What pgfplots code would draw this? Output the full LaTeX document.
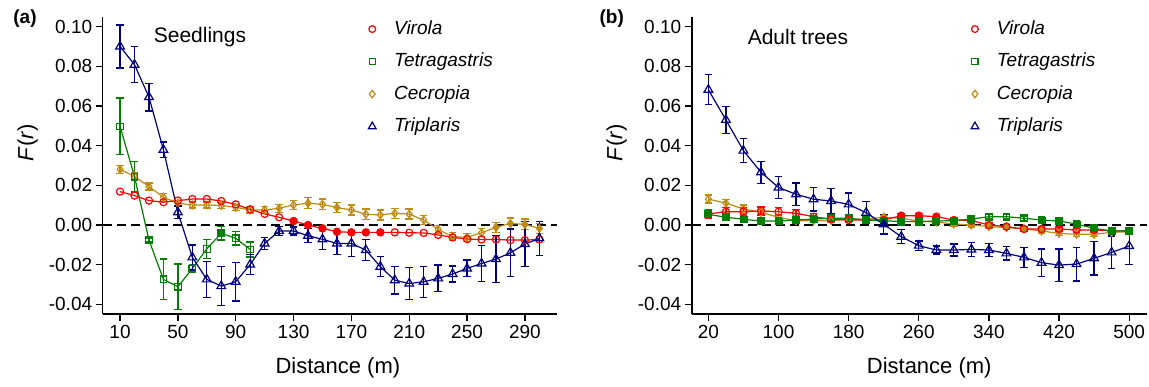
\documentclass[border=0pt]{standalone}
\usepackage{fontspec}
\setmainfont{Liberation Sans}
\usepackage{pgfplots}
\usepackage{pgfplotstable}
\pgfplotsset{compat=1.18}
\definecolor{cvir}{RGB}{255,0,0}
\definecolor{ctet}{RGB}{0,128,0}
\definecolor{ccec}{RGB}{190,140,20}
\definecolor{ctri}{RGB}{0,0,128}

% ---------------- panel (a): seedlings ----------------
\pgfplotstableread{
x y
10 0.0168
20 0.0148
30 0.0123
40 0.0115
50 0.0123
60 0.0131
70 0.0131
80 0.0121
90 0.0104
100 0.0079
110 0.0056
120 0.0039
130 0.0020
140 0.0000
150 -0.0017
160 -0.0034
170 -0.0037
180 -0.0037
190 -0.0037
200 -0.0037
210 -0.0039
220 -0.0040
230 -0.0050
240 -0.0062
250 -0.0071
260 -0.0073
270 -0.0073
280 -0.0076
290 -0.0076
300 -0.0073
}\virA
\pgfplotstableread{
x y
130 0.0020
140 0.0000
150 -0.0017
160 -0.0034
170 -0.0037
180 -0.0037
190 -0.0037
}\virAf
\pgfplotstableread{
x y e
10 0.0497 0.0143
20 0.0244 0.0077
30 -0.0076 0.0010
40 -0.0274 0.0103
50 -0.0311 0.0114
60 -0.0219 0.0020
70 -0.0120 0.0048
80 -0.0042 0.0034
90 -0.0067 0.0034
100 -0.0123 0.0038
}\tetA
\pgfplotstableread{
x y
80 -0.0042
}\tetAf
\pgfplotstableread{
x y e
10 0.0281 0.0020
20 0.0244 0.0018
30 0.0194 0.0018
40 0.0140 0.0020
50 0.0110 0.0015
60 0.0101 0.0015
70 0.0101 0.0015
80 0.0098 0.0015
90 0.0089 0.0015
100 0.0076 0.0015
110 0.0076 0.0018
120 0.0084 0.0020
130 0.0101 0.0022
140 0.0110 0.0027
150 0.0104 0.0027
160 0.0088 0.0025
170 0.0076 0.0025
180 0.0054 0.0027
190 0.0051 0.0025
200 0.0059 0.0025
210 0.0055 0.0025
220 0.0025 0.0022
230 -0.0022 0.0020
240 -0.0059 0.0020
250 -0.0062 0.0020
260 -0.0039 0.0020
270 -0.0012 0.0025
280 0.0008 0.0027
290 0.0003 0.0027
300 -0.0017 0.0025
}\cecA
\pgfplotstableread{
x y
270 -0.0012
280 0.0008
290 0.0003
300 -0.0017
}\cecAf
\pgfplotstableread{
x y e
10 0.0900 0.0108
20 0.0808 0.0090
30 0.0645 0.0070
40 0.0379 0.0040
50 0.0064 0.0032
60 -0.0163 0.0063
70 -0.0274 0.0090
80 -0.0308 0.0099
90 -0.0286 0.0097
100 -0.0199 0.0052
110 -0.0093 0.0030
120 -0.0030 0.0023
130 -0.0030 0.0020
140 -0.0054 0.0035
150 -0.0072 0.0050
160 -0.0093 0.0055
170 -0.0093 0.0065
180 -0.0126 0.0052
190 -0.0210 0.0050
200 -0.0278 0.0070
210 -0.0295 0.0080
220 -0.0286 0.0078
230 -0.0269 0.0067
240 -0.0247 0.0040
250 -0.0219 0.0042
260 -0.0194 0.0090
270 -0.0172 0.0118
280 -0.0140 0.0120
290 -0.0096 0.0114
300 -0.0067 0.0086
}\triA

% ---------------- panel (b): adult trees ----------------
\pgfplotstableread{
x y e
20 0.0056 0.0020
40 0.0067 0.0020
60 0.0067 0.0020
80 0.0071 0.0020
100 0.0067 0.0020
120 0.0059 0.0020
140 0.0042 0.0015
160 0.0029 0.0010
180 0.0025 0.0010
200 0.0025 0.0010
220 0.0025 0.0010
240 0.0047 0.0010
260 0.0047 0.0010
280 0.0042 0.0010
300 0.0025 0.0010
320 0.0022 0.0010
340 0.0000 0.0010
360 -0.0008 0.0010
380 -0.0020 0.0010
400 -0.0020 0.0010
420 -0.0020 0.0010
440 -0.0025 0.0010
460 -0.0025 0.0010
480 -0.0030 0.0010
500 -0.0030 0.0010
}\virB
\pgfplotstableread{
x y
240 0.0047
260 0.0047
280 0.0042
300 0.0025
}\virBf
\pgfplotstableread{
x y e
20 0.0054 0.0015
40 0.0039 0.0012
60 0.0029 0.0010
80 0.0020 0.0010
100 0.0020 0.0010
120 0.0025 0.0010
140 0.0030 0.0010
160 0.0034 0.0010
180 0.0034 0.0010
200 0.0025 0.0010
220 0.0022 0.0010
240 0.0017 0.0010
260 0.0017 0.0010
280 0.0020 0.0010
300 0.0022 0.0010
320 0.0030 0.0010
340 0.0042 0.0010
360 0.0042 0.0010
380 0.0034 0.0010
400 0.0025 0.0010
420 0.0020 0.0010
440 0.0005 0.0010
460 -0.0017 0.0010
480 -0.0030 0.0010
500 -0.0029 0.0010
}\tetB
\pgfplotstableread{
x y
20 0.0054
40 0.0039
60 0.0029
80 0.0020
100 0.0020
120 0.0025
140 0.0030
200 0.0025
220 0.0022
240 0.0017
260 0.0017
280 0.0020
300 0.0022
320 0.0030
400 0.0025
420 0.0020
440 0.0005
460 -0.0017
480 -0.0030
500 -0.0029
}\tetBf
\pgfplotstableread{
x y e
20 0.0131 0.0020
40 0.0110 0.0020
60 0.0081 0.0020
80 0.0064 0.0015
100 0.0039 0.0012
120 0.0022 0.0010
140 0.0022 0.0010
160 0.0022 0.0010
180 0.0029 0.0010
200 0.0030 0.0010
220 0.0039 0.0010
240 0.0034 0.0010
260 0.0020 0.0010
280 0.0015 0.0010
300 0.0005 0.0010
320 0.0000 0.0010
340 -0.0008 0.0010
360 -0.0013 0.0010
380 -0.0020 0.0010
400 -0.0030 0.0010
420 -0.0042 0.0010
440 -0.0047 0.0010
460 -0.0047 0.0010
480 -0.0037 0.0010
500 -0.0034 0.0010
}\cecB
\pgfplotstableread{
x y
220 0.0039
240 0.0034
260 0.0020
280 0.0015
300 0.0005
320 0.0000
340 -0.0008
360 -0.0013
380 -0.0020
400 -0.0030
}\cecBf
\pgfplotstableread{
x y e
20 0.0682 0.0076
40 0.0530 0.0067
60 0.0375 0.0060
80 0.0266 0.0055
100 0.0189 0.0056
120 0.0155 0.0057
140 0.0130 0.0060
160 0.0121 0.0063
180 0.0104 0.0057
200 0.0062 0.0055
220 0.0004 0.0050
240 -0.0059 0.0035
260 -0.0104 0.0023
280 -0.0126 0.0020
300 -0.0126 0.0030
320 -0.0123 0.0035
340 -0.0126 0.0034
360 -0.0143 0.0034
380 -0.0163 0.0050
400 -0.0190 0.0069
420 -0.0202 0.0081
440 -0.0197 0.0085
460 -0.0168 0.0084
480 -0.0138 0.0082
500 -0.0106 0.0094
}\triB
\pgfplotstableread{
x y
220 0.0004
}\triBf

\pgfplotsset{
  /pgf/number format/assume math mode=true,
  panel/.style={
    scale only axis, height=297.6pt,
    axis x line*=bottom, axis y line*=left,
    ymin=-0.045, ymax=0.105,
    ytick={-0.04,-0.02,0,0.02,0.04,0.06,0.08,0.1},
    scaled y ticks=false,
    yticklabel style={/pgf/number format/.cd, fixed, fixed zerofill, precision=2, assume math mode=true},
    xticklabel style={/pgf/number format/assume math mode=true},
    ticklabel style={font=\fontsize{19}{22}\selectfont, black},
    tick align=outside, major tick length=7pt,
    tick style={line width=1.3pt, black},
    axis line style={line width=1.6pt, black},
    xlabel={Distance (m)},
    ylabel={\textit{F}(\textit{r}\kern0.5pt)},
    every axis y label/.style={at={(rel axis cs:0,0.577)}, xshift=-75pt, rotate=90, anchor=center, font=\fontsize{22}{26}\selectfont},
    clip=false,
    legend cell align=left,
    legend image code/.code={\draw[##1] plot coordinates {(0pt,0pt)};},
    legend style={draw=none, fill=none, inner sep=0pt, outer sep=0pt,
      anchor=north west, row sep=14.5pt,
      font=\itshape\fontsize{19}{22}\selectfont,
      nodes={inner sep=0pt, text height=14pt, text depth=4pt},
      /tikz/every odd column/.style={column sep=18pt}},
  },
  ser/.style={color=#1, line width=1.2pt,
    mark options={fill=white, solid, line width=1.2pt},
    error bars/y dir=both, error bars/y explicit,
    error bars/error bar style={line width=1.3pt, #1},
    error bars/error mark options={rotate=90, mark size=3.8pt, line width=1.3pt, #1}},
}

\begin{document}
\begin{tikzpicture}
\path[use as bounding box] (0,0) rectangle (1149pt,387pt);

% ----- (a)
\begin{axis}[panel, at={(102.7pt,72.7pt)}, anchor=south west, width=454pt,
  xmin=-2, xmax=312, xtick={10,50,90,130,170,210,250,290},
  every axis x label/.style={at={(rel axis cs:0.518,0)}, yshift=-53.7pt, anchor=center, font=\fontsize{22}{26}\selectfont},
  legend style={at={(rel axis cs:0.5852,0.9886)}}]
\addlegendimage{only marks, mark=o, mark size=3.4pt, draw=cvir, mark options={draw=cvir, fill=white, line width=1.2pt}}
\addlegendentry{Virola}
\addlegendimage{only marks, mark=square, mark size=3.1pt, draw=ctet, mark options={draw=ctet, fill=white, line width=1.2pt}}
\addlegendentry{Tetragastris}
\addlegendimage{only marks, mark=diamond, mark size=3.8pt, draw=ccec, mark options={draw=ccec, fill=white, line width=1.2pt}}
\addlegendentry{Cecropia}
\addlegendimage{only marks, mark=triangle, mark size=4.5pt, draw=ctri, mark options={draw=ctri, fill=white, line width=1.2pt}}
\addlegendentry{Triplaris}
\addplot[black, dashed, dash pattern=on 9pt off 5pt, line width=1.3pt, forget plot] coordinates {(-2,0) (312,0)};
\addplot[ser=ccec, mark=diamond, mark size=3.9pt, forget plot] table[x=x,y=y,y error=e] {\cecA};
\addplot[only marks, ccec, mark=diamond*, mark size=3.9pt, mark options={fill=ccec}, forget plot] table[x=x,y=y] {\cecAf};
\addplot[cvir, line width=1.2pt, mark=o, mark size=3.6pt, mark options={fill=white, line width=1.2pt}, forget plot] table[x=x,y=y] {\virA};
\addplot[only marks, cvir, mark=*, mark size=3.6pt, mark options={fill=cvir}, forget plot] table[x=x,y=y] {\virAf};
\addplot[ser=ctet, mark=square, mark size=3.3pt, forget plot] table[x=x,y=y,y error=e] {\tetA};
\addplot[only marks, ctet, mark=square*, mark size=3.3pt, mark options={fill=ctet}, forget plot] table[x=x,y=y] {\tetAf};
\addplot[ser=ctri, mark=triangle, mark size=5pt, forget plot] table[x=x,y=y,y error=e] {\triA};
\end{axis}

% ----- (b)
\begin{axis}[panel, at={(691.7pt,72.7pt)}, anchor=south west, width=455pt,
  xmin=1, xmax=520, xtick={20,100,180,260,340,420,500},
  every axis x label/.style={at={(rel axis cs:0.522,0)}, yshift=-53.7pt, anchor=center, font=\fontsize{22}{26}\selectfont},
  legend style={at={(rel axis cs:0.6139,0.9886)}}]
\addlegendimage{only marks, mark=o, mark size=3.4pt, draw=cvir, mark options={draw=cvir, fill=white, line width=1.2pt}}
\addlegendentry{Virola}
\addlegendimage{only marks, mark=square, mark size=3.1pt, draw=ctet, mark options={draw=ctet, fill=white, line width=1.2pt}}
\addlegendentry{Tetragastris}
\addlegendimage{only marks, mark=diamond, mark size=3.8pt, draw=ccec, mark options={draw=ccec, fill=white, line width=1.2pt}}
\addlegendentry{Cecropia}
\addlegendimage{only marks, mark=triangle, mark size=4.5pt, draw=ctri, mark options={draw=ctri, fill=white, line width=1.2pt}}
\addlegendentry{Triplaris}
\addplot[black, dashed, dash pattern=on 9pt off 5pt, line width=1.3pt, forget plot] coordinates {(1,0) (520,0)};
\addplot[ser=ccec, mark=diamond, mark size=3.9pt, forget plot] table[x=x,y=y,y error=e] {\cecB};
\addplot[only marks, ccec, mark=diamond*, mark size=3.9pt, mark options={fill=ccec}, forget plot] table[x=x,y=y] {\cecBf};
\addplot[ser=cvir, mark=o, mark size=3.6pt, forget plot] table[x=x,y=y,y error=e] {\virB};
\addplot[only marks, cvir, mark=*, mark size=3.6pt, mark options={fill=cvir}, forget plot] table[x=x,y=y] {\virBf};
\addplot[ser=ctet, mark=square, mark size=3.3pt, forget plot] table[x=x,y=y,y error=e] {\tetB};
\addplot[only marks, ctet, mark=square*, mark size=3.3pt, mark options={fill=ctet}, forget plot] table[x=x,y=y] {\tetBf};
\addplot[ser=ctri, mark=triangle, mark size=5pt, forget plot] table[x=x,y=y,y error=e] {\triB};
\addplot[only marks, ctri, mark=triangle*, mark size=5pt, mark options={fill=ctri}, forget plot] table[x=x,y=y] {\triBf};
\end{axis}

\node[font=\bfseries\fontsize{19}{22}\selectfont] at (25pt,368pt) {(a)};
\node[font=\bfseries\fontsize{19}{22}\selectfont] at (611.7pt,368pt) {(b)};
\node[font=\fontsize{21}{24}\selectfont] at (200pt,350.3pt) {Seedlings};
\node[font=\fontsize{21}{24}\selectfont] at (798pt,350.3pt) {Adult trees};
\end{tikzpicture}
\end{document}
